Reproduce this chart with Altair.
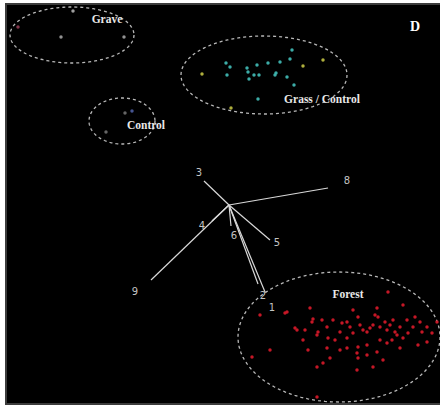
import altair as alt
import numpy as np
import pandas as pd

# Site scores (plot units, y grows downward)
grave_x = [73, 18, 61, 124]
grave_y = [11, 27, 37, 37]
grave_c = ["#a8a8a8", "#8a3a50", "#9a9a9a", "#9a9a9a"]

grass_x = [202, 226, 230, 227, 247, 248, 249, 254, 257, 259, 268, 275, 276, 280,
           287, 290, 292, 294, 303, 323, 258, 231]
grass_y = [74, 63, 67, 75, 68, 72, 79, 75, 65, 75, 63, 75, 73, 62,
           77, 59, 50, 85, 66, 60, 99, 108]
grass_c = ["#b8b840"] + ["#3fb5b0"] * 17 + ["#b8b840", "#b8b840", "#3fb5b0", "#b8b840"]

control_x = [125, 132, 106]
control_y = [113, 111, 132]
control_c = ["#6a6a6a", "#4a5a9a", "#6a6a6a"]

forest_x = [260, 287, 310, 353, 377, 388, 403, 295, 305, 313, 322, 318, 317, 333,
            342, 347, 350, 358, 360, 363, 367, 370, 373, 375, 378, 380, 385, 387,
            390, 393, 395, 397, 400, 407, 408, 413, 415, 420, 422, 427, 432, 437,
            418, 427, 403, 400, 392, 387, 380, 377, 367, 358, 357, 358, 357, 347,
            340, 335, 328, 327, 330, 323, 317, 308, 303, 297, 270, 252, 317, 373,
            383, 367, 347, 353, 340, 327, 312, 285]
forest_y = [315, 312, 308, 310, 308, 292, 305, 328, 330, 319, 320, 332, 335, 320,
            323, 322, 327, 317, 325, 330, 332, 328, 325, 315, 317, 327, 322, 330,
            325, 320, 332, 335, 327, 320, 333, 327, 317, 322, 332, 327, 333, 322,
            345, 342, 338, 348, 340, 343, 340, 352, 345, 347, 353, 358, 370, 348,
            350, 340, 338, 348, 358, 363, 367, 350, 340, 330, 350, 357, 397, 367,
            360, 355, 338, 333, 332, 327, 322, 313]

# Environmental vectors
vec_names = ["1", "2", "3", "4", "5", "6", "8", "9"]
vec_x = [265, 258, 204, 212, 270, 231, 328, 151]
vec_y = [292, 284, 181, 221, 240, 226, 188, 280]
vec_lab_x = [272, 263, 199, 202, 277, 234, 347, 135]
vec_lab_y = [308, 296, 173, 226, 243, 236, 181, 292]
origin = (229, 205)

# Group ellipses: centre and radii
ell_names = ["Grave", "Grass\u00a0/\u00a0Control", "Control", "Forest"]
ell_cx = [72, 264, 122, 339]
ell_cy = [35, 75, 121, 337]
ell_rx = [62, 83, 33, 101]
ell_ry = [28, 39, 23, 65]
lab_x = [107, 322, 146, 348]
lab_y = [20, 100, 126, 295]

panel = pd.DataFrame({"x": [6], "x2": [442], "y": [4], "y2": [404]})

pts = pd.DataFrame({
    "x": grave_x + grass_x + control_x + forest_x,
    "y": grave_y + grass_y + control_y + forest_y,
    "c": grave_c + grass_c + control_c + ["#d01828"] * len(forest_x),
})

t = np.linspace(0, 2 * np.pi, 181)
ell_rows = []
for n, cx, cy, rx, ry in zip(ell_names, ell_cx, ell_cy, ell_rx, ell_ry):
    for i, a in enumerate(t):
        ell_rows.append({"g": n, "i": i, "x": cx + rx * np.cos(a), "y": cy + ry * np.sin(a)})
ell = pd.DataFrame(ell_rows)

vec = pd.DataFrame({"n": vec_names, "x": [origin[0]] * len(vec_names),
                    "y": [origin[1]] * len(vec_names), "x2": vec_x, "y2": vec_y,
                    "lx": vec_lab_x, "ly": vec_lab_y})
labs = pd.DataFrame({"t": ell_names, "x": lab_x, "y": lab_y})
panel_lab = pd.DataFrame({"t": ["D"], "x": [415], "y": [27]})

W, H = 440, 408
xs = alt.Scale(domain=[0, W], nice=False, zero=False)
ys = alt.Scale(domain=[0, H], nice=False, zero=False, reverse=True)
X = lambda f: alt.X(f, type="quantitative", scale=xs, axis=None)
Y = lambda f: alt.Y(f, type="quantitative", scale=ys, axis=None)

bg = alt.Chart(panel).mark_rect(fill="black", stroke="#3c3c3c", strokeWidth=2).encode(
    x=X("x"), x2="x2", y=Y("y"), y2="y2")

ellipses = alt.Chart(ell).mark_line(
    color="#b8b8b8", strokeWidth=1.3, strokeDash=[3, 3], clip=True
).encode(x=X("x"), y=Y("y"), detail="g:N", order="i:Q")

points = alt.Chart(pts).mark_circle(size=12, opacity=0.95).encode(
    x=X("x"), y=Y("y"), color=alt.Color("c:N", scale=None))

arrows = alt.Chart(vec).mark_rule(color="#d8d8d8", strokeWidth=1.2).encode(
    x=X("x"), y=Y("y"), x2="x2", y2="y2")

arrow_labels = alt.Chart(vec).mark_text(
    font="DejaVu Sans", fontSize=10, color="#c4c4c4", align="center", baseline="middle"
).encode(x=X("lx"), y=Y("ly"), text="n:N")

group_labels = alt.Chart(labs).mark_text(
    font="Liberation Serif", fontWeight="bold", fontSize=11.5, color="#e8e8e8",
    align="center", baseline="middle"
).encode(x=X("x"), y=Y("y"), text="t:N")

letter = alt.Chart(panel_lab).mark_text(
    font="Liberation Serif", fontWeight="bold", fontSize=14, color="white",
    align="center", baseline="middle"
).encode(x=X("x"), y=Y("y"), text="t:N")

chart = alt.layer(bg, ellipses, points, arrows, arrow_labels, group_labels, letter).properties(
    width=W, height=H, padding=0, autosize=alt.AutoSizeParams(type="none"),
    background="white"
).configure_view(stroke=None)

chart.save("out.html", embed_options={"renderer": "svg", "actions": False})
